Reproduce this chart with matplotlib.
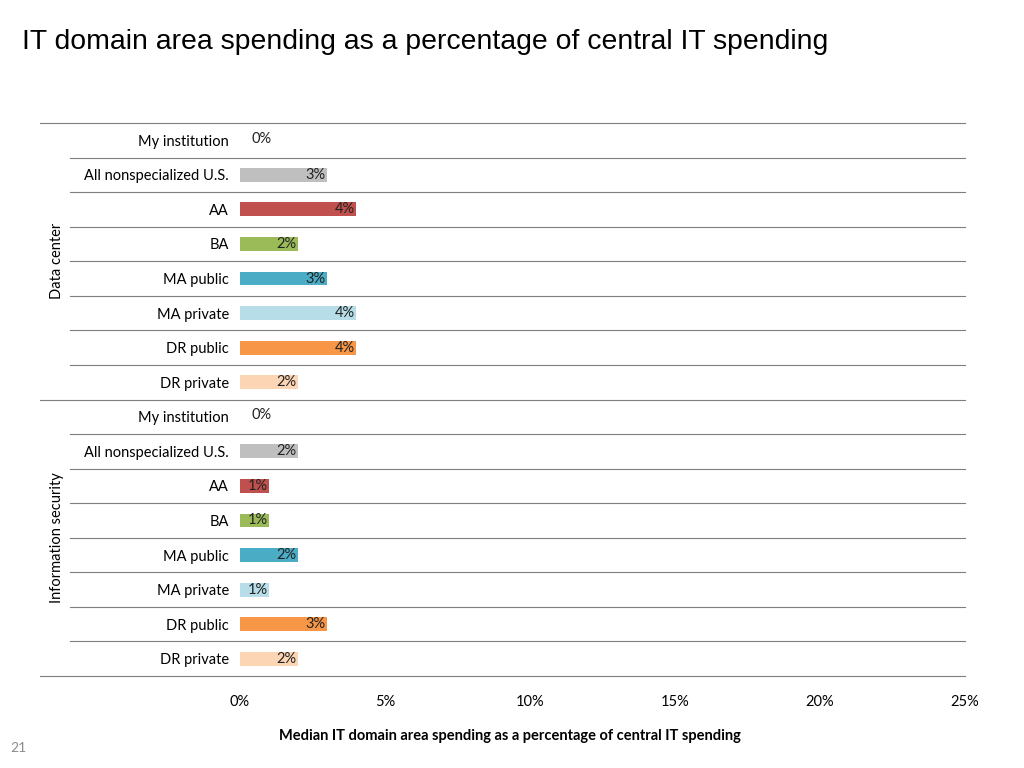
import numpy as np
import matplotlib.pyplot as plt

categories = ["My institution", "All nonspecialized U.S.", "AA", "BA",
              "MA public", "MA private", "DR public", "DR private"]
groups = ["Data center", "Information security"]
data_center = [0, 3, 4, 2, 3, 4, 4, 2]
info_security = [0, 2, 1, 1, 2, 1, 3, 2]
colors = ["#BFBFBF", "#BFBFBF", "#C0504D", "#9BBB59", "#4BACC6",
          "#B7DEE8", "#F79646", "#FCD5B5"]
xticks = [0, 5, 10, 15, 20, 25]

plt.rcParams['font.family'] = ['Lato', 'DejaVu Sans']

fig = plt.figure(figsize=(10.24, 7.68), dpi=100)
ax = fig.add_axes([240 / 1024, 1 - 676 / 768, 725 / 1024, (676 - 123) / 768])

values = data_center + info_security
labels = categories + categories
cols = colors + colors
n = len(values)
y = np.arange(n)[::-1]

ax.barh(y, values, height=0.4, color=cols)
for yi, v in zip(y, values):
    if v == 0:
        ax.annotate("0%", (0, yi), xytext=(8, 1), textcoords="offset points",
                    ha="left", va="center", fontsize=10.5, color="#222222")
    else:
        ax.annotate(f"{v}%", (v, yi), xytext=(-1, 0), textcoords="offset points",
                    ha="right", va="center", fontsize=10.5, color="#222222")

ax.set_ylim(-0.5, n - 0.5)
ax.set_xlim(0, 25)
ax.set_yticks(y)
ax.set_yticklabels(labels, fontsize=10.5)
ax.tick_params(axis="y", length=0, pad=8)
ax.set_xticks(xticks)
ax.set_xticklabels([f"{t}%" for t in xticks], fontsize=10.5)
ax.tick_params(axis="x", length=0, pad=14)
for s in ax.spines.values():
    s.set_visible(False)

# row separators
trans = ax.get_yaxis_transform()
for k in range(n + 1):
    yy = n - 0.5 - k
    x0 = -0.2759 if k in (0, 8, 16) else -0.2345
    ax.plot([x0, 1], [yy, yy], transform=trans, color="#7F7F7F", lw=0.8,
            clip_on=False)

# group labels
for g, name in enumerate(groups):
    yc = n - 1 - (g * 8 + 3.5)
    ax.text(-0.253, yc, name, transform=trans, rotation=90, ha="center",
            va="center", fontsize=10.5)

fig.text(510 / 1024, 1 - 736 / 768,
         "Median IT domain area spending as a percentage of central IT spending",
         fontsize=10.5, fontweight="bold", ha="center", va="center")

fig.text(22 / 1024, 1 - 42 / 768, "IT domain area spending as a percentage of central IT spending",
         fontsize=20.4, family="Liberation Sans", va="center", ha="left")
fig.text(10 / 1024, 1 - 748 / 768, "21", fontsize=10, color="#8C8C8C", va="center")

fig.savefig("out.png", dpi=100)
